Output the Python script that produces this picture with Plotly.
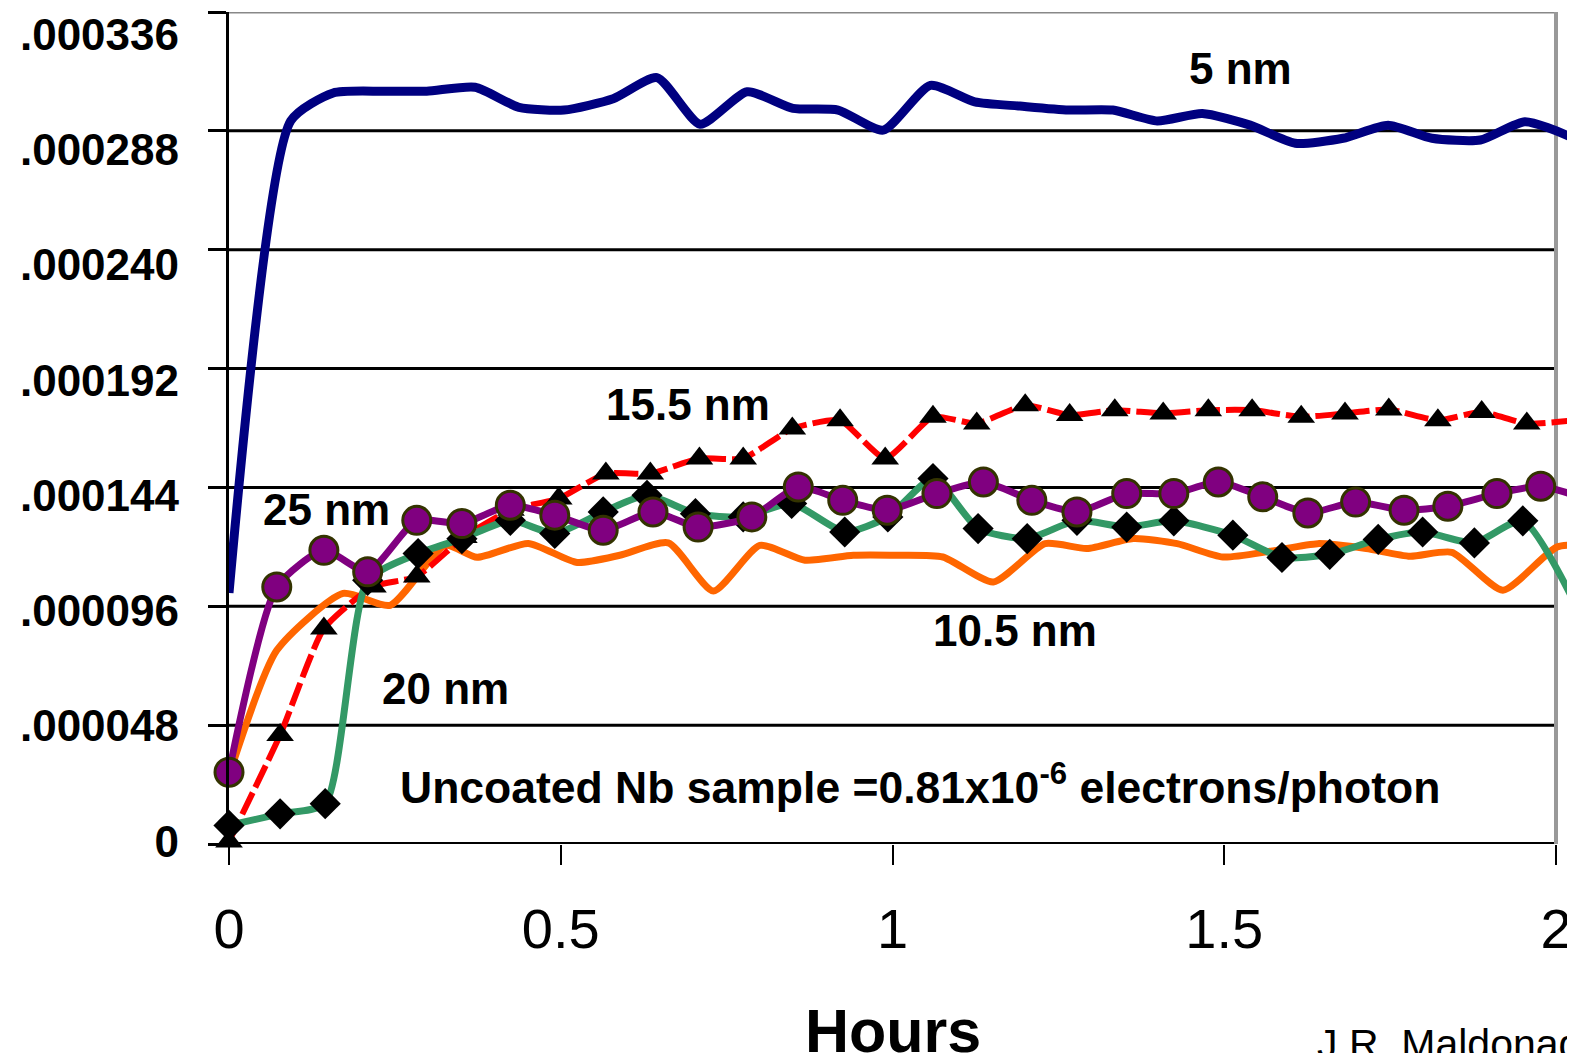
import numpy as np
import plotly.graph_objects as go

FONT = "Liberation Sans, Arial, sans-serif"
U = 1e-6  # values below are in units of 1e-6 electrons/photon

# ---- data ----
hours_5nm = [0, 0.093, 0.157, 0.232, 0.298, 0.371, 0.437, 0.505, 0.579, 0.645, 0.710,
             0.781, 0.850, 0.918, 0.986, 1.057, 1.124, 1.192, 1.265, 1.332, 1.399,
             1.467, 1.539, 1.607, 1.679, 1.747, 1.813, 1.886, 1.953, 2.021, 2.09]
yield_5nm = [101.4, 292, 303.3, 304, 304, 305.6, 297.5, 296.4, 301, 309.5, 290.7,
             303.8, 297.1, 296.4, 288.3, 306.4, 299.7, 298, 296.4, 296.4, 292,
             295, 290.3, 283, 285, 290.3, 285, 284.3, 291.7, 285.6, 273]

hours_10nm = [0, 0.072, 0.172, 0.243, 0.326, 0.374, 0.451, 0.525, 0.589, 0.662, 0.730,
              0.800, 0.868, 0.941, 1.008, 1.076, 1.152, 1.230, 1.293, 1.363, 1.429,
              1.498, 1.569, 1.641, 1.714, 1.780, 1.843, 1.920, 2.002, 2.07]
yield_10nm = [27.7, 78.2, 101.2, 96.4, 120.6, 115.8, 121.4, 113.7, 116.6, 121.6, 102.2,
              120.6, 114.6, 116.6, 116.6, 115.9, 105.8, 121.3, 119.3, 123.4, 121.3,
              115.9, 118.2, 121.3, 119.3, 116.2, 117.8, 102.5, 120, 120.6]

hours_15nm = [0, 0.077, 0.143, 0.217, 0.283, 0.354, 0.425, 0.497, 0.568, 0.635, 0.709,
              0.775, 0.849, 0.921, 0.989, 1.061, 1.127, 1.200, 1.267, 1.335, 1.408,
              1.476, 1.542, 1.616, 1.682, 1.748, 1.822, 1.888, 1.956, 2.06]
yield_15nm = [1, 44, 87, 104, 108, 124, 135, 139.5, 149.6, 149.6, 155.7,
              155.7, 167.8, 171.1, 155.7, 172.5, 169.8, 177.2, 173.2, 175.2, 173.9,
              175.2, 175.2, 172.5, 173.9, 175.5, 171.1, 174.5, 169.8, 172]

hours_20nm = [0, 0.077, 0.145, 0.209, 0.285, 0.351, 0.424, 0.491, 0.564, 0.630, 0.703,
              0.775, 0.848, 0.928, 0.993, 1.061, 1.129, 1.203, 1.278, 1.353, 1.424,
              1.513, 1.587, 1.659, 1.732, 1.799, 1.877, 1.950, 2.06]
yield_20nm = [7.5, 12.2, 16.3, 106.5, 117.3, 123.3, 130.7, 125.4, 134.1, 140.8, 133.4,
              132.1, 137.5, 126, 132.1, 147.6, 127.4, 123.3, 130.7, 128, 130.5,
              124.7, 115.7, 117, 123, 126, 121.6, 130.5, 80]

hours_25nm = [0, 0.072, 0.143, 0.209, 0.283, 0.351, 0.424, 0.491, 0.564, 0.639, 0.707,
              0.788, 0.858, 0.925, 0.992, 1.067, 1.137, 1.210, 1.278, 1.353, 1.424,
              1.491, 1.558, 1.626, 1.698, 1.771, 1.837, 1.911, 1.977, 2.06]
yield_25nm = [29, 103.8, 118.6, 109.9, 130.7, 129.4, 136.8, 132.8, 126.7, 134.1, 128,
              132.1, 144.2, 138.8, 134.8, 141.5, 146.2, 138.8, 134.1, 141.5, 141.5,
              146.2, 140.2, 133.7, 138.1, 134.8, 136.4, 141.5, 144.5, 138]

x_tick_vals = [0, 0.5, 1, 1.5, 2]
x_tick_text = ["0", "0.5", "1", "1.5", "2"]
y_tick_vals = [0, 48e-6, 96e-6, 144e-6, 192e-6, 240e-6, 288e-6, 336e-6]
y_tick_text = ["0", ".000048", ".000096", ".000144", ".000192", ".000240", ".000288", ".000336"]

series_labels = ["5 nm", "10.5 nm", "15.5 nm", "20 nm", "25 nm"]
note_text = "Uncoated Nb sample =0.81x10<sup>-6</sup> electrons/photon"
x_title = "Hours"
credit = "J.R. Maldonado"


def scaled(v):
    return (np.array(v) * U).tolist()


fig = go.Figure()

fig.add_trace(go.Scatter(x=hours_10nm, y=scaled(yield_10nm), mode="lines", name="10.5 nm",
                         line=dict(color="#FF6600", width=7, shape="spline", smoothing=0.6)))
fig.add_trace(go.Scatter(x=hours_15nm, y=scaled(yield_15nm), mode="lines+markers", name="15.5 nm",
                         line=dict(color="#FF0000", width=6, dash="24px,6px", shape="spline", smoothing=0.5),
                         marker=dict(symbol="triangle-up", size=24, color="black"), cliponaxis=False))
fig.add_trace(go.Scatter(x=hours_20nm, y=scaled(yield_20nm), mode="lines+markers", name="20 nm",
                         line=dict(color="#339966", width=7, shape="spline", smoothing=0.6),
                         marker=dict(symbol="diamond", size=24, color="black"), cliponaxis=False))
fig.add_trace(go.Scatter(x=hours_25nm, y=scaled(yield_25nm), mode="lines+markers", name="25 nm",
                         line=dict(color="#800080", width=7, shape="spline", smoothing=0.6),
                         marker=dict(symbol="circle", size=28, color="#800080",
                                     line=dict(color="#333300", width=3)), cliponaxis=False))
fig.add_trace(go.Scatter(x=hours_5nm, y=scaled(yield_5nm), mode="lines", name="5 nm",
                         line=dict(color="#000080", width=9, shape="spline", smoothing=0.6)))
# carrier for the (offset) tick-label axis
fig.add_trace(go.Scatter(x=[0], y=[0], yaxis="y2", mode="markers", showlegend=False,
                         hoverinfo="skip", marker=dict(size=1, color="rgba(0,0,0,0)")))

shapes = []
for v in y_tick_vals[:-1]:
    shapes.append(dict(type="line", xref="x", yref="y", x0=0, x1=2, y0=v, y1=v,
                       line=dict(color="black", width=4 if v == 0 else 3), layer="below"))
shapes.append(dict(type="line", xref="x", yref="y", x0=0, x1=2, y0=y_tick_vals[-1], y1=y_tick_vals[-1],
                   line=dict(color="#888888", width=3), layer="below"))
shapes.append(dict(type="line", xref="x", yref="y", x0=2, x1=2, y0=0, y1=y_tick_vals[-1],
                   line=dict(color="#999999", width=4), layer="below"))

bold = dict(family=FONT, size=44, color="black", weight="bold")
annotations = [
    dict(x=1.525, y=313e-6, text=series_labels[0]),
    dict(x=1.184, y=86.4e-6, text=series_labels[1]),
    dict(x=0.692, y=177.3e-6, text=series_labels[2]),
    dict(x=0.3256, y=62.9e-6, text=series_labels[3]),
    dict(x=0.147, y=135e-6, text=series_labels[4]),
]
for a in annotations:
    a.update(xref="x", yref="y", showarrow=False, font=bold, xanchor="center", yanchor="middle")
annotations.append(dict(x=0.2544, y=24.3e-6, xref="x", yref="y", text=note_text, showarrow=False,
                        font=dict(family=FONT, size=44.5, color="black", weight="bold"),
                        xanchor="left", yanchor="middle"))
annotations.append(dict(x=1.0, y=-0.181, xref="x", yref="paper", text=x_title, showarrow=False,
                        font=dict(family=FONT, size=61, color="black", weight="bold"),
                        xanchor="center", yanchor="top"))
annotations.append(dict(x=1.637, y=-0.2105, xref="x", yref="paper", text=credit, showarrow=False,
                        font=dict(family=FONT, size=41, color="black"),
                        xanchor="left", yanchor="top"))

# the page body has an 8px margin: the margins below compensate for it
fig.update_layout(
    width=1575, height=1053, autosize=False,
    margin=dict(l=221, r=0, t=4, b=217.4, pad=0),
    plot_bgcolor="white", paper_bgcolor="white",
    showlegend=False,
    xaxis=dict(range=[0, 2.0407], tickvals=x_tick_vals, ticktext=x_tick_text, automargin=False,
               ticks="outside", ticklen=20, tickwidth=2, tickcolor="black",
               showgrid=False, zeroline=False, showline=False,
               tickfont=dict(family=FONT, size=56, color="black"), ticklabelstandoff=16),
    yaxis=dict(range=[0, 336e-6], tickvals=y_tick_vals, ticks="outside", ticklen=18, automargin=False,
               tickwidth=3, tickcolor="black", showticklabels=False, showgrid=False,
               zeroline=False, showline=True, linecolor="black", linewidth=3),
    yaxis2=dict(overlaying="y", side="left", anchor="x", range=[-1.125e-6, 345.4e-6], automargin=False,
                tickvals=y_tick_vals, ticktext=y_tick_text, ticks="", showgrid=False,
                zeroline=False, showline=False, tickfont=bold, ticklabelstandoff=49),
    shapes=shapes, annotations=annotations,
)

fig.write_html("out.html")
